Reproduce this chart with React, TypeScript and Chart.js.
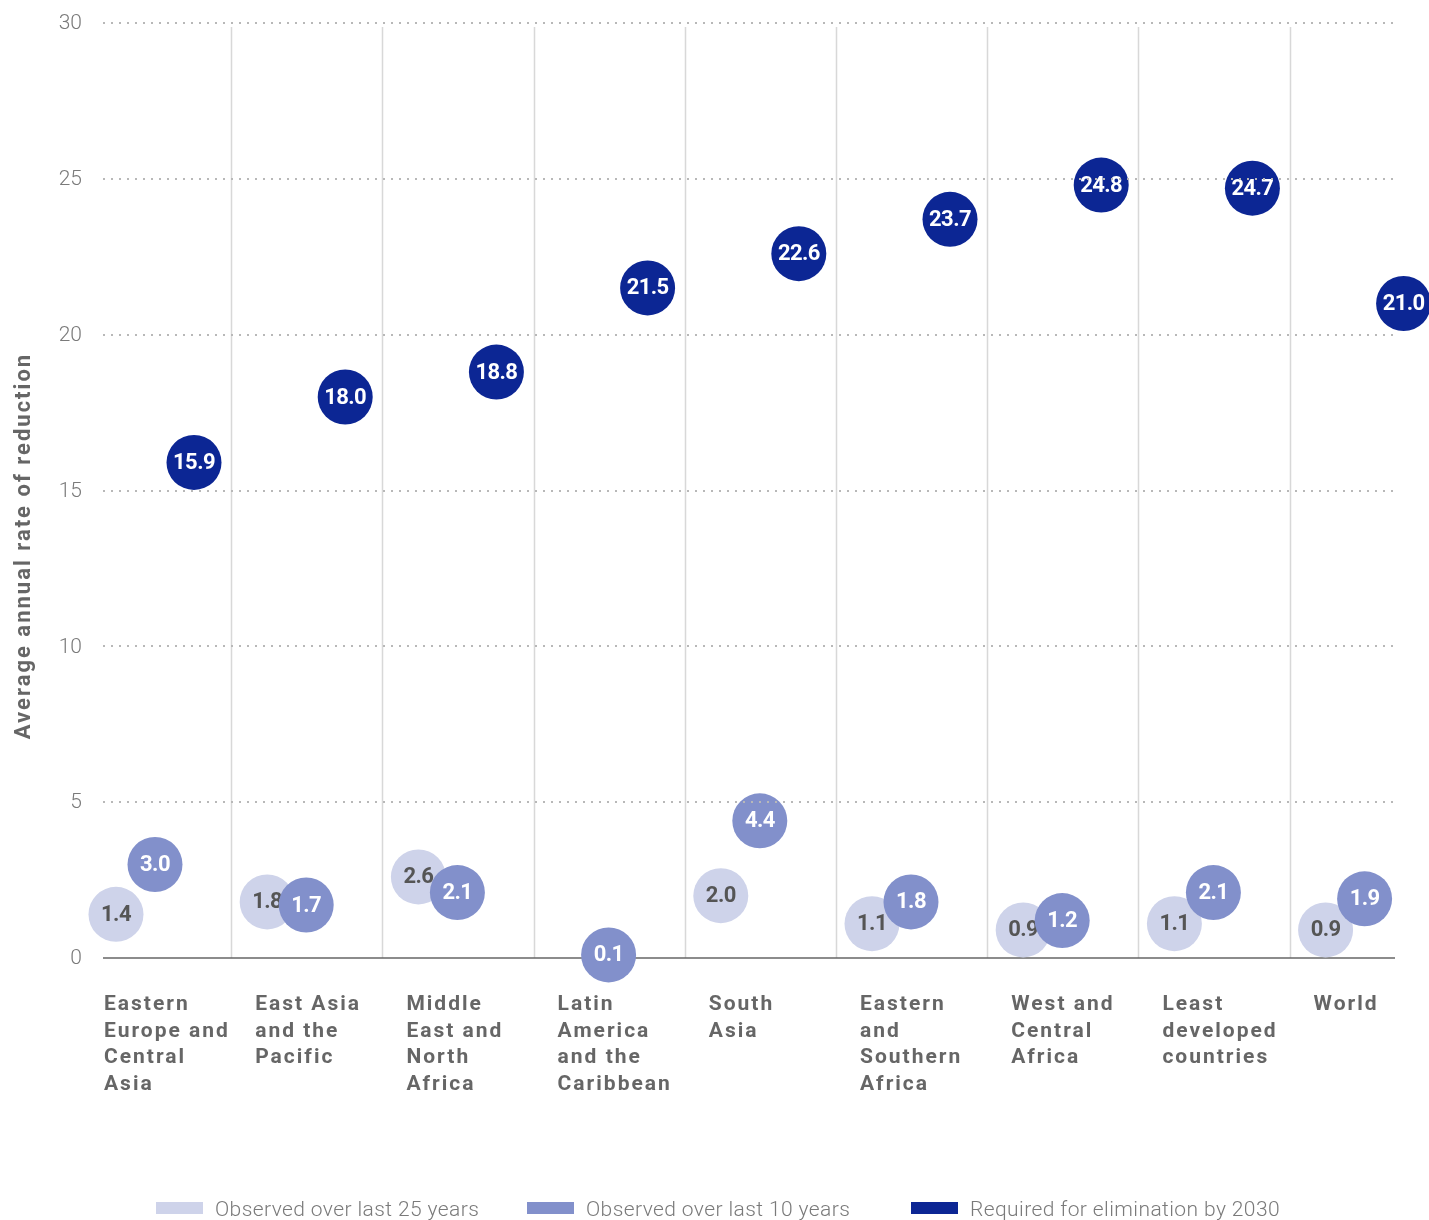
import React, { useEffect, useRef } from "react";
import Chart from "chart.js/auto";

const categories: string[][] = [
  ["Eastern", "Europe and", "Central", "Asia"],
  ["East Asia", "and the", "Pacific"],
  ["Middle", "East and", "North", "Africa"],
  ["Latin", "America", "and the", "Caribbean"],
  ["South", "Asia"],
  ["Eastern", "and", "Southern", "Africa"],
  ["West and", "Central", "Africa"],
  ["Least", "developed", "countries"],
  ["World"],
];
const observed25: (number | null)[] = [1.4, 1.8, 2.6, null, 2.0, 1.1, 0.9, 1.1, 0.9];
const observed10: number[] = [3.0, 1.7, 2.1, 0.1, 4.4, 1.8, 1.2, 2.1, 1.9];
const required: number[] = [15.9, 18.0, 18.8, 21.5, 22.6, 23.7, 24.8, 24.7, 21.0];
const yTicks: number[] = [0, 5, 10, 15, 20, 25, 30];
const seriesNames: string[] = [
  "Observed over last 25 years",
  "Observed over last 10 years",
  "Required for elimination by 2030",
];

const COLORS = ["#ced3ea", "#8290cb", "#0c2694"];
const TEXT_COLORS = ["#555555", "#ffffff", "#ffffff"];
const OFFSETS = [0.238, 0.496, 0.754];
const CAT_W = 151.2;
const LEFT = 80;
const W = 1429;
const H = 1220;
const TOP = 23;
const BOTTOM = 958;

function toPoints(arr: (number | null)[], off: number) {
  const out: { x: number; y: number }[] = [];
  arr.forEach((v, i) => {
    if (v !== null && v !== undefined) out.push({ x: i + off, y: v });
  });
  return out;
}

export default function App() {
  const ref = useRef<HTMLCanvasElement | null>(null);
  useEffect(() => {
    if (!ref.current) return;
    const labelPlugin = {
      id: "pointLabels",
      afterDatasetDraw(chart: any, args: any) {
        const ctx = chart.ctx;
        const idx = args.index;
        const meta = chart.getDatasetMeta(idx);
        const ds = chart.data.datasets[idx];
        ctx.save();
        ctx.font = "bold 22px Roboto";
        (ctx as any).letterSpacing = "-0.6px";
        ctx.fillStyle = TEXT_COLORS[ds.seriesIndex];
        ctx.textAlign = "center";
        ctx.textBaseline = "middle";
        meta.data.forEach((el: any, i: number) => {
          const v = ds.data[i].y;
          ctx.fillText(v.toFixed(1), el.x, el.y + 1);
        });
        ctx.restore();
      },
    };
    const decoPlugin = {
      id: "deco",
      beforeDatasetsDraw(chart: any) {
        const ctx = chart.ctx;
        const y = chart.scales.y;
        ctx.save();
        // vertical separators
        ctx.strokeStyle = "#d8d8d8";
        ctx.lineWidth = 1.5;
        for (let k = 1; k <= 8; k++) {
          const x = Math.round(LEFT + CAT_W * k) + 0.5;
          ctx.beginPath();
          ctx.moveTo(x, 27);
          ctx.lineTo(x, BOTTOM);
          ctx.stroke();
        }
        // zero line
        ctx.strokeStyle = "#666666";
        ctx.lineWidth = 1.5;
        ctx.beginPath();
        ctx.moveTo(103, y.getPixelForValue(0));
        ctx.lineTo(1395, y.getPixelForValue(0));
        ctx.stroke();
        // y tick labels
        ctx.font = "300 21px Roboto";
        ctx.fillStyle = "#7a7a7a";
        ctx.textAlign = "right";
        ctx.textBaseline = "middle";
        yTicks.forEach((t) => {
          ctx.fillText(String(t), 82, y.getPixelForValue(t) + 1);
        });
        // y title
        ctx.save();
        ctx.translate(30, 546);
        ctx.rotate(-Math.PI / 2);
        ctx.font = "bold 22px Roboto";
        (ctx as any).letterSpacing = "2px";
        ctx.fillStyle = "#666666";
        ctx.textAlign = "center";
        ctx.textBaseline = "alphabetic";
        ctx.fillText("Average annual rate of reduction", 0, 0);
        ctx.restore();
        // category labels
        ctx.font = "bold 21px Roboto";
        (ctx as any).letterSpacing = "2px";
        ctx.fillStyle = "#666666";
        ctx.textAlign = "left";
        ctx.textBaseline = "alphabetic";
        categories.forEach((lines, i) => {
          const x = LEFT + CAT_W * i + 24;
          lines.forEach((ln, j) => {
            ctx.fillText(ln, x, 1010 + j * 26.6);
          });
        });
        // legend
        (ctx as any).letterSpacing = "0.4px";
        const sw = [156, 527, 911];
        ctx.font = "300 21px Roboto";
        seriesNames.forEach((n, i) => {
          ctx.fillStyle = COLORS[i];
          ctx.fillRect(sw[i], 1202, 47, 12);
          ctx.fillStyle = "#7a7a7a";
          ctx.fillText(n, sw[i] + 59, 1216);
        });
        ctx.restore();
      },
      afterDatasetsDraw(chart: any) {
        const ctx = chart.ctx;
        const y = chart.scales.y;
        ctx.save();
        ctx.strokeStyle = "#b8b8b8";
        ctx.lineWidth = 2;
        ctx.setLineDash([2, 6]);
        [5, 10, 15, 20, 25, 30].forEach((t) => {
          const py = Math.round(y.getPixelForValue(t));
          ctx.beginPath();
          ctx.moveTo(103, py);
          ctx.lineTo(1398, py);
          ctx.stroke();
        });
        ctx.restore();
      },
    };
    const allSeries = [observed25, observed10, required];
    const chart = new Chart(ref.current, {
      type: "scatter",
      data: {
        datasets: allSeries.map((s, i) => ({
          label: seriesNames[i],
          seriesIndex: i,
          data: toPoints(s, OFFSETS[i]),
          backgroundColor: COLORS[i],
          borderWidth: 0,
          pointRadius: 27.5,
          pointHoverRadius: 27.5,
          order: 3 - i,
          clip: false,
        })) as any,
      },
      options: {
        animation: false,
        responsive: false,
        events: [],
        layout: { autoPadding: false, padding: { left: LEFT, right: 0, top: TOP, bottom: H - BOTTOM } },
        plugins: { legend: { display: false }, tooltip: { enabled: false } },
        scales: {
          x: { type: "linear", min: 0, max: (W - LEFT) / CAT_W, display: false },
          y: { type: "linear", min: 0, max: 30, display: false },
        },
      },
      plugins: [decoPlugin, labelPlugin],
    });
    return () => chart.destroy();
  }, []);
  return (
    <div style={{ position: "absolute", left: 0, top: 0, width: W, height: H, overflow: "hidden", background: "#fff" }}>
      <canvas ref={ref} width={W} height={H} style={{ width: W, height: H, display: "block" }} />
    </div>
  );
}
